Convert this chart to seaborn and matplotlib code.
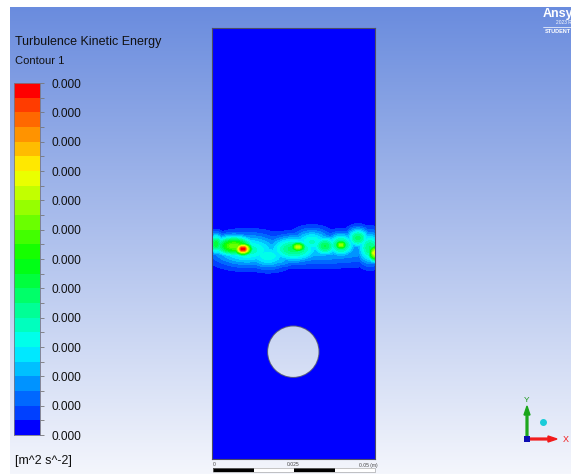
import numpy as np
import matplotlib
matplotlib.use("Agg")
import matplotlib.pyplot as plt
import seaborn as sns
from matplotlib.colors import ListedColormap, LinearSegmentedColormap
from matplotlib.patches import Circle, Rectangle, FancyArrow

# ---------------- data ----------------
TITLE = "Turbulence Kinetic Energy"
SUBTITLE = "Contour 1"
UNITS = "[m^2 s^-2]"
legend_labels = ["0.000"] * 13          # 13 labels, top -> bottom
n_levels = 24                           # colour bands in the legend
scale_labels = ["0", "0.025", "0.05 (m)"]

# domain grid (cells)
grid_w, grid_h = 163, 431
# cylinder (hole) in grid cells
hole_cx, hole_cy, hole_r = 81.3, 323.7, 25.7

# turbulence hot spots in the wake band (grid cells, value 0..1)
spot_x = [31, 22, 4, 86, 82, 56, 113, 129, 129, 146, 163, 158, 85, 35, 100, 62]
spot_y = [221, 218, 216, 219, 221, 228, 218, 217, 217, 210, 225, 220, 222, 222, 214, 232]
spot_peak = [1.0, 0.62, 0.45, 0.7, 0.4, 0.28, 0.42, 0.66, 0.42, 0.4, 0.76, 0.38, 0.2, 0.32, 0.3, 0.2]
spot_sx = [6.5, 14, 6, 6, 18, 16, 9, 5, 10, 8, 5, 9, 80, 24, 14, 18]
spot_sy = [4.5, 7, 7, 4, 9, 9, 7, 4, 8, 7, 6, 11, 11, 11, 9, 6]

# ---------------- figure ----------------
W, H = 571, 474
fig = plt.figure(figsize=(W / 100, H / 100), dpi=100)
sns.set_style("white")
plt.rcParams["font.family"] = ["Liberation Sans", "DejaVu Sans"]


def fx(x):
    return x / W


def fy(y):
    return 1 - y / H


# background gradient
bg = fig.add_axes([0, 0, 1, 1])
top_c = np.array([106, 140, 222]) / 255
bot_c = np.array([244, 246, 252]) / 255
t = np.linspace(0, 1, H - 7)[:, None, None]
grad = top_c * (1 - t) + bot_c * t
grad = np.repeat(grad, W, axis=1)
img = np.ones((H, W, 3))
img[7:, 10:, :] = grad[:, 10:, :]
bg.imshow(img, extent=[0, W, H, 0], aspect="auto", interpolation="nearest")
bg.set_xlim(0, W)
bg.set_ylim(H, 0)
bg.axis("off")

# colormap (Ansys rainbow)
base = LinearSegmentedColormap.from_list(
    "ansys", [(0, (0, 0, 1)), (0.25, (0, 1, 1)), (0.5, (0, 1, 0)),
              (0.75, (1, 1, 0)), (1.0, (1, 0, 0))])
colors = [base((i + 0.5) / n_levels) for i in range(n_levels)]
colors[0] = (0, 0, 1, 1)
colors[-1] = (1, 0, 0, 1)
cmap = ListedColormap(colors)

# field
yy, xx = np.mgrid[0:grid_h, 0:grid_w] + 0.5
field = np.zeros((grid_h, grid_w))
for x0, y0, p, sx, sy in zip(spot_x, spot_y, spot_peak, spot_sx, spot_sy):
    field = np.maximum(field, p * np.exp(-((xx - x0) ** 2 / (2 * sx ** 2) + (yy - y0) ** 2 / (2 * sy ** 2))))
mask = (xx - hole_cx) ** 2 + (yy - hole_cy) ** 2 <= hole_r ** 2
field = np.ma.masked_where(mask, field)

ax = fig.add_axes([fx(212), fy(459), 163 / W, 431 / H])
ax.set_facecolor("none")
sns.heatmap(field, cmap=cmap, vmin=0, vmax=1, cbar=False, xticklabels=False,
            yticklabels=False, ax=ax, mask=mask, rasterized=True)
ax.add_patch(Circle((hole_cx, hole_cy), hole_r, fill=False, ec=(0.35, 0.37, 0.5), lw=0.7))
for s in ax.spines.values():
    s.set_visible(True)
    s.set_color((0.3, 0.3, 0.4))
    s.set_linewidth(0.8)

# legend bar
lax = fig.add_axes([fx(14), fy(435), 26 / W, 352 / H])
lax.imshow(np.arange(n_levels)[:, None], cmap=cmap, aspect="auto", origin="lower",
           extent=[0, 1, 0, n_levels], vmin=-0.5, vmax=n_levels - 0.5)
lax.set_xlim(0, 1)
lax.set_ylim(0, n_levels)
lax.set_xticks([])
lax.yaxis.tick_right()
lax.set_yticks(np.arange(0, n_levels + 1, 2))
lax.set_yticklabels(legend_labels[::-1], fontsize=8.6, color="#111")
lax.set_yticks(np.arange(1, n_levels, 2), minor=True)
lax.tick_params(axis="y", which="both", direction="out", length=3, width=0.6,
                color="#777", pad=5)
for s in lax.spines.values():
    s.set_color("#778")
    s.set_linewidth(0.6)

fig.text(fx(15), fy(42), TITLE, fontsize=9, va="center", ha="left", color="#111")
fig.text(fx(15), fy(61), SUBTITLE, fontsize=8, va="center", ha="left", color="#111")
fig.text(fx(15), fy(461), UNITS, fontsize=9, va="center", ha="left", color="#111")

# scale bar
for i, c in enumerate(["black", "white", "black", "white"]):
    bg.add_patch(Rectangle((213 + i * 40.5, 468), 40.5, 3.5, fc=c, ec="none"))
bg.add_patch(Rectangle((213, 468), 162, 3.5, fill=False, ec="#999", lw=0.4))
for x, lab in zip([213, 293, 368], scale_labels):
    bg.text(x, 465, lab, fontsize=3.6, ha="center" if x != 213 else "left",
            va="center", color="#444")

# logo (clipped at the right edge, as in the reference)
bg.text(543, 14, "Ansys", fontsize=9, fontweight="bold", color="white", va="center", ha="left")
bg.text(556, 22.5, "2023 R1", fontsize=3.5, color="white", va="center", ha="left")
bg.plot([543, 571], [26.5, 26.5], color="white", lw=0.5)
bg.text(544.5, 31, "STUDENT", fontsize=4, fontweight="bold", color="white", va="center", ha="left")

# axis triad
bg.add_patch(FancyArrow(527, 439, 0, -33, width=1.8, head_width=6, head_length=9,
                        color=(0.1, 0.65, 0.1), length_includes_head=True))
bg.add_patch(FancyArrow(527, 439, 30, 0, width=1.8, head_width=6, head_length=9,
                        color=(0.95, 0.1, 0.1), length_includes_head=True))
bg.add_patch(Rectangle((524, 436), 6, 6, fc=(0.05, 0.05, 0.7), ec="none"))
bg.plot([543], [422], "o", ms=4, color=(0.1, 0.8, 0.85))
bg.text(527, 401, "Y", fontsize=6, color=(0.1, 0.6, 0.1), ha="center", va="center")
bg.text(566, 439, "X", fontsize=6.5, color=(0.95, 0.1, 0.1), ha="center", va="center")

fig.savefig("out.png", dpi=100)
